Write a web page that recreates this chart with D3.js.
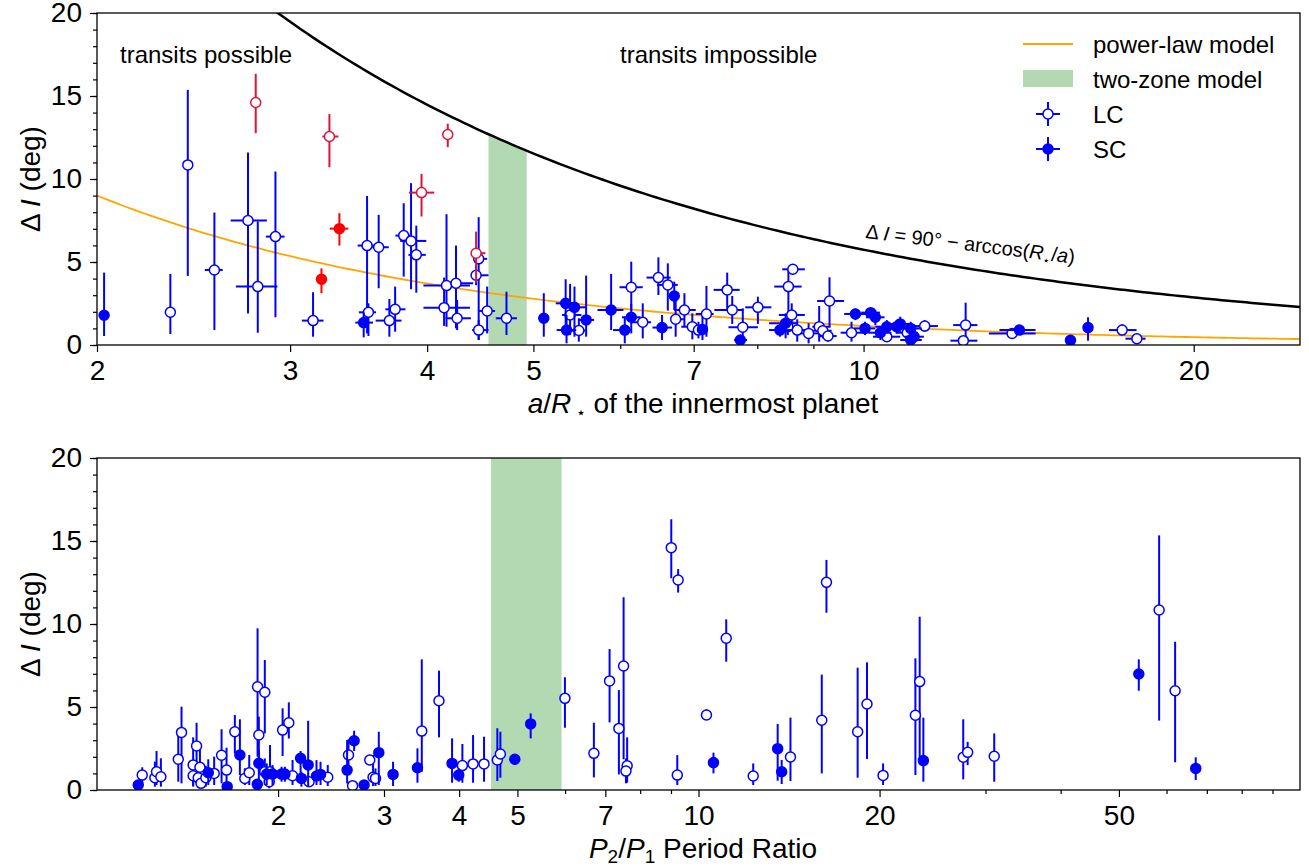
<!DOCTYPE html>
<html>
<head>
<meta charset="utf-8">
<script src="https://cdn.jsdelivr.net/npm/d3@7"></script>
<style>
  body { margin: 0; background: #fff; }
  svg text { font-family: "Liberation Sans", Arial, sans-serif; fill: #000; }
</style>
</head>
<body>
<div id="chart"></div>
<script>
// ---- data ----
// top panel rows: [a/R*, dI, dI low, dI high, a low, a high]
var topLC = [
  [2.333, 1.97, 0.66, 4.28, 2.312, 2.355], [2.42, 10.85, 4.16, 15.37, null, null],
  [2.559, 4.52, 0.9, 7.98, 2.508, 2.604], [2.746, 7.5, 1.9, 11.6, 2.648, 2.857],
  [2.803, 3.52, 0.74, 7.44, 2.677, 2.921], [2.909, 6.53, 1.67, 10.45, 2.851, 2.965],
  [3.148, 1.47, 0.5, 3.18, 3.075, 3.218], [3.526, 5.99, 0.7, 8.98, 3.457, 3.593],
  [3.613, 5.89, 3.42, 7.84, 3.564, 3.69], [3.536, 1.97, 0.54, 2.51, 3.466, 3.593],
  [3.695, 1.47, 0.5, 2.77, 3.59, 3.79], [3.74, 2.15, 0.8, 3.52, 3.664, 3.822],
  [3.808, 6.59, 4.12, 8.54, 3.742, 3.875], [3.867, 6.27, 3.36, 9.75, 3.78, 3.993],
  [3.91, 5.43, 3.15, 7.19, 3.846, 3.988], [4.166, 3.58, 1.1, 7.88, 3.969, 4.376],
  [4.25, 3.72, 1.0, 5.99, 4.158, 4.406], [4.145, 2.25, 1.15, 4.06, 3.969, 4.376],
  [4.26, 1.61, 0.9, 2.71, 4.158, 4.385], [4.457, 5.19, 0.3, 7.7, 4.42, 4.537],
  [4.433, 4.2, 3.6, 4.8, 4.39, 4.55], [4.457, 0.9, 0.3, 1.5, 4.396, 4.55],
  [4.537, 2.05, 0.7, 3.52, 4.457, 4.613], [4.725, 1.61, 0.6, 3.21, 4.62, 4.83],
  [5.40, 1.81, 0.6, 3.68, 5.31, 5.53], [5.50, 0.87, 0.2, 1.61, 5.40, 5.58],
  [6.14, 3.48, 2.07, 5.02, 5.99, 6.29], [6.29, 1.37, 0.4, 2.51, 6.14, 6.40],
  [6.50, 4.06, 3.01, 5.28, 6.34, 6.67], [6.63, 3.62, 2.07, 4.92, 6.48, 6.77],
  [6.865, 2.11, 1.1, 3.12, 6.72, 7.03], [6.74, 1.55, 0.5, 2.71, 6.67, 6.87],
  [6.98, 1.1, 0.34, 1.91, 6.82, 7.13], [7.19, 1.87, 0.5, 3.56, 7.03, 7.30],
  [7.07, 0.9, 0.4, 1.4, null, null], [7.51, 3.32, 2.07, 4.36, 7.30, 7.71],
  [7.59, 2.11, 1.27, 2.95, 7.31, 7.77], [7.76, 1.07, 0.3, 2.21, 7.53, 8.01],
  [8.01, 2.27, 1.27, 2.91, 7.80, 8.24], [8.62, 4.56, 4.22, 4.88, 8.43, 8.84],
  [8.54, 3.52, 1.1, 4.52, 8.29, 8.78], [8.6, 1.81, 1.1, 2.51, 8.37, 8.84],
  [8.70, 0.9, 0.2, 1.55, 8.43, 8.91], [8.53, 1.1, 0.6, 1.6, 8.35, 8.7],
  [8.91, 0.7, 0.1, 1.31, 8.69, 9.17], [9.11, 1.1, 0.2, 2.35, 8.98, 9.33],
  [9.31, 2.65, 1.1, 4.08, 9.07, 9.6], [9.18, 0.86, 0.4, 1.3, 9.0, 9.35],
  [9.28, 0.54, 0.2, 0.9, 9.1, 9.45], [9.75, 0.74, 0.2, 1.4, 9.53, 10.03],
  [10.5, 0.5, 0.2, 0.8, 10.2, 10.8], [10.96, 0.74, 0.4, 1.1, 10.7, 11.2],
  [11.37, 1.14, 0.8, 1.5, 11.08, 11.69], [12.39, 1.2, 0.3, 2.55, 12.07, 12.70],
  [12.33, 0.26, 0.05, 0.5, 12.0, 12.70], [13.66, 0.7, 0.4, 1.0, 13.01, 14.35],
  [17.21, 0.9, 0.6, 1.25, 16.74, 17.74], [17.75, 0.38, 0.2, 0.6, 17.33, 18.08]
];
var topSC = [
  [2.03, 1.79, 0.54, 4.36, null, null], [3.501, 1.35, 0.46, 1.97, 3.44, 3.57],
  [5.11, 1.61, 0.5, 3.12, null, null], [5.35, 2.51, 0.7, 3.96, 5.24, 5.46],
  [5.45, 2.27, 0.5, 3.52, 5.32, 5.58], [5.36, 0.9, 0.1, 1.81, 5.25, 5.47],
  [5.585, 1.51, 0.5, 4.18, 5.50, 5.68], [5.886, 2.11, 0.9, 4.28, 5.72, 6.04],
  [6.057, 0.9, 0.1, 1.71, 5.91, 6.15], [6.14, 1.67, 0.7, 2.47, 6.02, 6.26],
  [6.55, 1.05, 0.3, 1.81, 6.42, 6.69], [6.72, 2.95, 2.11, 3.82, null, null],
  [7.13, 0.94, 0.3, 1.71, null, null], [7.72, 0.3, 0.15, 0.45, 7.62, 7.83],
  [8.49, 1.31, 0.4, 1.91, 8.2, 8.69], [8.39, 0.9, 0.5, 1.3, 8.2, 8.6],
  [9.83, 1.87, 1.5, 2.2, 9.6, 10.1], [10.03, 1.0, 0.6, 1.4, 9.8, 10.25],
  [10.15, 1.95, 1.7, 2.2, 9.95, 10.35], [10.25, 1.67, 1.2, 2.1, 10.05, 10.45],
  [10.36, 0.74, 0.3, 1.1, 10.1, 10.6], [10.5, 1.1, 0.7, 1.5, 10.25, 10.75],
  [10.72, 1.1, 0.7, 1.5, 10.5, 10.95], [10.80, 1.27, 0.8, 1.7, 10.6, 11.0],
  [11.04, 1.0, 0.6, 1.4, 10.8, 11.3], [11.04, 0.3, 0.1, 0.5, 10.8, 11.3],
  [11.12, 0.5, 0.2, 0.8, 10.9, 11.35], [13.87, 0.9, 0.7, 1.1, 13.3, 14.35],
  [15.44, 0.28, 0.15, 0.4, null, null], [16.02, 1.05, 0.26, 1.67, null, null]
];
var topRedLC = [
  [2.791, 14.61, 12.76, 16.34, 2.77, 2.818], [3.258, 12.56, 10.71, 13.91, 3.21, 3.32],
  [3.953, 9.18, 7.74, 10.31, 3.85, 4.06], [4.177, 12.68, 11.92, 13.33, 4.145, 4.21],
  [4.433, 5.53, 3.76, 6.83, 4.40, 4.52]
];
var topRedSC = [
  [3.204, 3.96, 3.12, 4.62, 3.18, 3.23], [3.327, 7.01, 5.99, 7.94, 3.26, 3.39]
];
// bottom panel rows: [P2/P1, dI, dI low, dI high]
var botLC = [
  [1.189, 0.9, 0.24, 1.37], [1.248, 0.74, 0.2, 1.71], [1.256, 1.1, 0.3, 2.35], [1.277, 0.8, 0.2, 1.91],
  [1.365, 1.85, 0.5, 3.57], [1.382, 3.47, 0.4, 5.02], [1.445, 1.51, 0.2, 3.17], [1.445, 0.86, 0.3, 1.5],
  [1.464, 2.65, 0.4, 4.05], [1.483, 1.37, 0.3, 2.41], [1.473, 0.74, 0.3, 1.2], [1.489, 0.4, 0.1, 0.8],
  [1.517, 0.74, 0.2, 1.45], [1.566, 1.0, 0.3, 2.01], [1.611, 2.09, 0.4, 3.66], [1.642, 1.2, 0.3, 2.55],
  [1.695, 3.51, 2.21, 4.52], [1.761, 0.7, 0.3, 1.31], [1.791, 1.04, 0.3, 2.11], [1.849, 6.22, 2.01, 9.74],
  [1.858, 3.31, 1.2, 4.42], [1.901, 5.89, 3.41, 7.83], [1.901, 1.1, 0.3, 1.9], [1.939, 1.1, 0.3, 2.71],
  [1.934, 0.5, 0.1, 0.9], [2.035, 3.61, 2.05, 4.92], [2.084, 4.05, 3.1, 5.28], [2.114, 0.86, 0.3, 1.81],
  [2.252, 0.5, 0.2, 0.8], [2.419, 0.77, 0.24, 1.51], [2.619, 2.11, 0.9, 3.05], [2.66, 0.26, 0.1, 0.4],
  [2.841, 1.81, 1.5, 2.1], [2.877, 0.77, 0.24, 2.11], [2.904, 0.7, 0.24, 1.3], [3.467, 3.55, 1.1, 7.87],
  [3.703, 5.38, 3.17, 7.19], [4.05, 1.47, 0.44, 2.77], [4.219, 1.57, 0.44, 3.31], [4.4, 1.57, 0.5, 3.21],
  [4.63, 1.81, 0.54, 3.72], [4.684, 2.17, 0.74, 3.51], [5.997, 5.52, 3.75, 6.79], [6.7, 2.21, 0.76, 4.05],
  [7.115, 6.57, 4.07, 8.49], [7.373, 3.71, 0.94, 6.02], [7.507, 7.47, 1.85, 11.61], [7.61, 1.46, 0.44, 3.17],
  [7.575, 1.14, 0.4, 1.9], [9.01, 14.6, 12.76, 16.31], [9.25, 12.65, 11.89, 13.31], [9.22, 0.9, 0.3, 2.1],
  [10.31, 4.52, 4.22, 4.86], [11.12, 9.14, 7.73, 10.28], [12.33, 0.84, 0.3, 1.6], [14.22, 1.99, 0.54, 4.36],
  [16.03, 4.2, 1.0, 6.95], [16.32, 12.51, 10.68, 13.86], [18.39, 3.51, 0.74, 7.37], [19.06, 5.18, 1.87, 7.69],
  [20.27, 0.88, 0.3, 1.6], [22.94, 4.5, 0.9, 7.93], [23.32, 6.53, 1.7, 10.44], [27.55, 1.97, 0.64, 4.26],
  [28.02, 2.27, 1.5, 2.9], [31.02, 2.03, 0.5, 3.41], [58.32, 10.84, 4.18, 15.34], [62.0, 5.98, 1.67, 8.93]
];
var botSC = [
  [1.171, 0.3, 0.1, 0.5], [1.531, 1.04, 0.3, 1.85], [1.646, 0.2, 0.05, 0.4], [1.728, 2.11, 0.9, 4.26],
  [1.858, 1.61, 0.6, 2.41], [1.847, 0.34, 0.1, 0.6], [1.915, 0.96, 0.3, 1.6], [1.958, 0.96, 0.3, 1.5],
  [2.027, 0.96, 0.5, 1.4], [2.053, 0.96, 0.5, 1.4], [2.18, 1.91, 0.6, 2.35], [2.187, 0.7, 0.2, 1.1],
  [2.244, 1.51, 0.24, 4.17], [2.317, 0.84, 0.3, 1.8], [2.353, 0.94, 0.3, 1.7], [2.605, 1.2, 0.4, 3.01],
  [2.676, 2.97, 2.35, 3.57], [2.78, 0.3, 0.1, 0.5], [2.941, 2.25, 0.3, 3.51], [3.106, 0.94, 0.24, 1.7],
  [3.41, 1.34, 0.44, 2.51], [3.893, 1.6, 0.44, 3.11], [3.994, 0.9, 0.5, 1.3], [4.95, 1.85, 1.51, 2.17],
  [5.26, 3.98, 3.11, 4.62], [10.59, 1.65, 1.0, 2.25], [13.54, 2.49, 0.56, 3.98], [13.75, 1.1, 0.36, 1.81],
  [23.65, 1.77, 0.5, 4.36], [53.95, 6.99, 5.98, 7.87], [67.09, 1.3, 0.6, 1.97]
];
// models
var powerA = 21.85, powerK = 1.28;      // dI = A * (a/R*)^-k
var zoneTop = [4.55, 4.93];             // two-zone band, a/R*
var zoneBot = [4.52, 5.92];             // two-zone band, P2/P1
var topTicks = [2, 3, 4, 5, 7, 10, 20], topMinor = [6, 8, 9];
var botTicks = [2, 3, 4, 5, 7, 10, 20, 50], botMinor = [6, 8, 9, 30, 40, 60, 70, 80, 90];
var yTicks = [0, 5, 10, 15, 20];

var W = 1309, H = 868;
var left = 97, right = 1300;
var blue = "#0000ff";

var svg = d3.select("#chart").append("svg").attr("width", W).attr("height", H);

function panel(top, bottom, xdom, majors, minors, id) {
  var x = d3.scaleLog().domain(xdom).range([left, right]);
  var y = d3.scaleLinear().domain([0, 20]).range([bottom, top]);
  var g = svg.append("g");
  g.append("clipPath").attr("id", id).append("rect")
    .attr("x", left).attr("y", top).attr("width", right - left).attr("height", bottom - top);
  var fmt = function (d) { return d; };
  // x axis
  var ax = g.append("g").attr("transform", "translate(0," + bottom + ")")
    .call(d3.axisBottom(x).tickValues(majors).tickFormat(fmt).tickSize(7).tickPadding(8));
  g.append("g").attr("transform", "translate(0," + bottom + ")")
    .call(d3.axisBottom(x).tickValues(minors).tickFormat("").tickSize(4));
  var ay = g.append("g").attr("transform", "translate(" + left + ",0)")
    .call(d3.axisLeft(y).tickValues(yTicks).tickSize(7).tickPadding(8));
  g.append("g").attr("transform", "translate(" + left + ",0)")
    .call(d3.axisLeft(y).tickValues(d3.range(0, 21)).tickFormat("").tickSize(4));
  g.selectAll(".domain").remove();
  g.selectAll(".tick line").attr("stroke", "#000").attr("stroke-width", 1.2);
  g.selectAll(".tick text").style("font-size", "28px");
  var plot = g.append("g").attr("clip-path", "url(#" + id + ")");
  return {x: x, y: y, g: g, plot: plot, top: top, bottom: bottom};
}

function errPoints(p, data, color, filled) {
  var gg = p.plot.append("g");
  gg.selectAll(".ev").data(data).join("line")
    .attr("x1", function (d) { return p.x(d[0]); }).attr("x2", function (d) { return p.x(d[0]); })
    .attr("y1", function (d) { return p.y(d[2]); }).attr("y2", function (d) { return p.y(d[3]); })
    .attr("stroke", color).attr("stroke-width", 2);
  gg.selectAll(".eh").data(data.filter(function (d) { return d[4] != null; })).join("line")
    .attr("x1", function (d) { return p.x(d[4]); }).attr("x2", function (d) { return p.x(d[5]); })
    .attr("y1", function (d) { return p.y(d[1]); }).attr("y2", function (d) { return p.y(d[1]); })
    .attr("stroke", color).attr("stroke-width", 2);
  gg.selectAll("circle").data(data).join("circle")
    .attr("cx", function (d) { return p.x(d[0]); })
    .attr("cy", function (d) { return p.y(d[1]); })
    .attr("r", 5)
    .attr("fill", filled ? color : "#fff")
    .attr("stroke", color).attr("stroke-width", 1.5);
}

// ---------- top panel ----------
var p1 = panel(13, 345, [2, 25], topTicks, topMinor, "clipTop");
var aGrid = d3.range(0, 201).map(function (i) { return 2 * Math.pow(12.5, i / 200); });
function limit(a) { return 90 - Math.acos(1 / a) * 180 / Math.PI; }

var zoneA = aGrid.filter(function (a) { return a >= zoneTop[0] && a <= zoneTop[1]; });
zoneA = [zoneTop[0]].concat(zoneA, [zoneTop[1]]);
p1.plot.append("path")
  .datum(zoneA)
  .attr("d", d3.area().x(function (a) { return p1.x(a); }).y0(p1.y(0)).y1(function (a) { return p1.y(limit(a)); }))
  .attr("fill", "#b3d9b3");

p1.plot.append("path").datum(aGrid)
  .attr("d", d3.line().x(function (a) { return p1.x(a); }).y(function (a) { return p1.y(limit(a)); }))
  .attr("fill", "none").attr("stroke", "#000").attr("stroke-width", 2.5);

p1.plot.append("path").datum(aGrid)
  .attr("d", d3.line().x(function (a) { return p1.x(a); }).y(function (a) { return p1.y(powerA * Math.pow(a, -powerK)); }))
  .attr("fill", "none").attr("stroke", "#ffa500").attr("stroke-width", 1.8);

errPoints(p1, topLC, blue, false);
errPoints(p1, topSC, blue, true);
errPoints(p1, topRedLC, "#dc143c", false);
errPoints(p1, topRedSC, "#ff0000", true);

p1.g.append("text").attr("x", 120).attr("y", 63).style("font-size", "24px").text("transits possible");
p1.g.append("text").attr("x", 620).attr("y", 63).style("font-size", "24px").text("transits impossible");

var ft = p1.g.append("text").attr("transform", "translate(865,238) rotate(7)").style("font-size", "20px");
ft.append("tspan").text("\u0394 ");
ft.append("tspan").style("font-style", "italic").text("I");
ft.append("tspan").text(" = 90\u00b0 \u2212 arccos(");
ft.append("tspan").style("font-style", "italic").text("R");
ft.append("tspan").style("font-size", "12px").attr("dy", 4).text("\u22c6");
ft.append("tspan").attr("dy", -4).text("/");
ft.append("tspan").style("font-style", "italic").text("a");
ft.append("tspan").text(")");

// legend
var lg = p1.g.append("g");
lg.append("line").attr("x1", 1023).attr("x2", 1073).attr("y1", 44).attr("y2", 44)
  .attr("stroke", "#ffa500").attr("stroke-width", 2);
lg.append("rect").attr("x", 1023).attr("y", 70).attr("width", 50).attr("height", 17).attr("fill", "#b3d9b3");
[[114, false], [149, true]].forEach(function (r) {
  lg.append("line").attr("x1", 1036).attr("x2", 1060).attr("y1", r[0]).attr("y2", r[0]).attr("stroke", blue).attr("stroke-width", 2);
  lg.append("line").attr("x1", 1048).attr("x2", 1048).attr("y1", r[0] - 12).attr("y2", r[0] + 12).attr("stroke", blue).attr("stroke-width", 2);
  lg.append("circle").attr("cx", 1048).attr("cy", r[0]).attr("r", 5)
    .attr("fill", r[1] ? blue : "#fff").attr("stroke", blue).attr("stroke-width", 1.5);
});
var legendText = ["power-law model", "two-zone model", "LC", "SC"];
[44, 79, 114, 149].forEach(function (yy, i) {
  lg.append("text").attr("x", 1093).attr("y", yy + 8.5).style("font-size", "24px").text(legendText[i]);
});

// ---------- bottom panel ----------
var p2 = panel(458, 790, [1, 100], botTicks, botMinor, "clipBot");
p2.plot.append("rect")
  .attr("x", p2.x(zoneBot[0])).attr("width", p2.x(zoneBot[1]) - p2.x(zoneBot[0]))
  .attr("y", 458).attr("height", 332).attr("fill", "#b3d9b3");
errPoints(p2, botLC, blue, false);
errPoints(p2, botSC, blue, true);

// frames
[p1, p2].forEach(function (p) {
  p.g.append("rect").attr("x", left).attr("y", p.top).attr("width", right - left).attr("height", p.bottom - p.top)
    .attr("fill", "none").attr("stroke", "#000").attr("stroke-width", 1.3);
});

// axis labels
function yLabel(cy) {
  var t = svg.append("text").attr("transform", "translate(40," + cy + ") rotate(-90)")
    .attr("text-anchor", "middle").style("font-size", "28px");
  t.append("tspan").text("\u0394 ");
  t.append("tspan").style("font-style", "italic").text("I");
  t.append("tspan").text(" (deg)");
}
yLabel(179);
yLabel(624);

var xl1 = svg.append("text").attr("x", 703).attr("y", 413).attr("text-anchor", "middle").style("font-size", "28px");
xl1.append("tspan").style("font-style", "italic").text("a");
xl1.append("tspan").text("/");
xl1.append("tspan").style("font-style", "italic").text("R");
xl1.append("tspan").style("font-size", "16px").attr("dy", 5).text(" \u22c6");
xl1.append("tspan").attr("dy", -5).text("  of the innermost planet");

var xl2 = svg.append("text").attr("x", 703).attr("y", 858).attr("text-anchor", "middle").style("font-size", "28px");
xl2.append("tspan").style("font-style", "italic").text("P");
xl2.append("tspan").style("font-size", "19px").attr("dy", 5).text("2");
xl2.append("tspan").attr("dy", -5).text("/");
xl2.append("tspan").style("font-style", "italic").text("P");
xl2.append("tspan").style("font-size", "19px").attr("dy", 5).text("1");
xl2.append("tspan").attr("dy", -5).text(" Period Ratio");
</script>
</body>
</html>
